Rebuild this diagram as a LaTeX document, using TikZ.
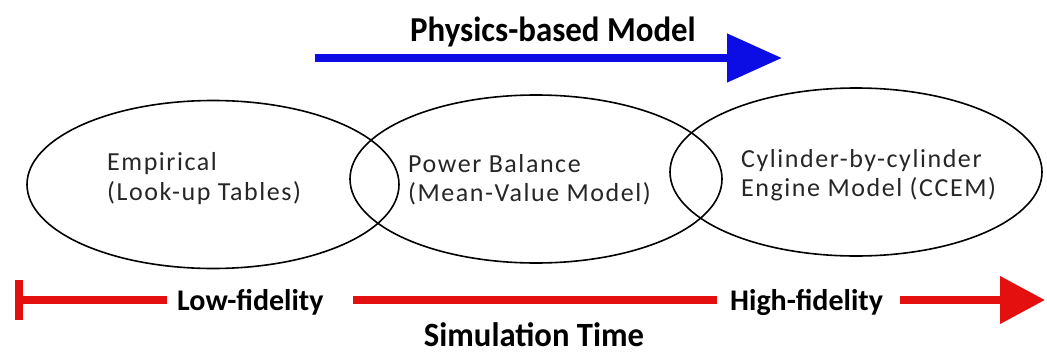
\documentclass[tikz,border=0pt]{standalone}
\usepackage{fontspec}
\setmainfont{Carlito}
\usetikzlibrary{shapes.geometric,arrows.meta}
\definecolor{arrblue}{RGB}{12,12,228}
\definecolor{arrred}{RGB}{228,16,16}
\begin{document}
\begin{tikzpicture}[x=1pt,y=-1pt,
  oval/.style={draw=black, line width=1.6pt, ellipse, minimum width=372pt, minimum height=168pt, inner sep=0pt},
  body/.style={anchor=base west, inner sep=0pt, text=black!85, font=\fontsize{26}{30}\selectfont\addfontfeatures{LetterSpace=6}},
  bold/.style={anchor=base, inner sep=0pt, font=\bfseries\fontsize{35}{40}\selectfont},
  fid/.style={anchor=base west, inner sep=0pt, font=\bfseries\fontsize{30}{36}\selectfont},
  redline/.style={draw=arrred, line width=7.5pt},
]
\useasboundingbox (0,0) rectangle (1047,356);

% ellipses
\node[oval] (e1) at (213,184.5) {};
\node[oval] (e2) at (536,179) {};
\node[oval] (e3) at (856,172) {};

% ellipse texts
\node[body] (t1a) at (107,170) {Empirical};
\node[body] (t1b) at (107,200) {(Look-up Tables)};
\node[body] (t2a) at (408,172) {Power Balance};
\node[body] (t2b) at (408,201) {(Mean-Value Model)};
\node[body] (t3a) at (741,167) {Cylinder-by-cylinder};
\node[body] (t3b) at (741,196) {Engine Model (CCEM)};

% physics-based arrow
\node[bold] (phys) at (553,41) {\scalebox{0.94}[1]{Physics-based Model}};
\coordinate (bs) at (315,58);
\coordinate (be) at (782,58);
\draw[arrblue, line width=8pt, -{Triangle[length=55pt,width=47pt]}] (bs) -- (be);

% fidelity axis
\node[fid] (low) at (177,310) {Low-fidelity};
\node[fid] (high) at (730,310) {High-fidelity};
\node[bold, font=\bfseries\fontsize{34}{38}\selectfont] (sim) at (534,346) {\scalebox{0.96}[1]{Simulation Time}};
\coordinate (bt) at (19,280);
\coordinate (bb) at (19,320);
\coordinate (r0) at (15,300);
\coordinate (r1) at (167,300);
\coordinate (r2) at (353,300);
\coordinate (r3) at (717,300);
\coordinate (r4) at (900,300);
\coordinate (r5) at (1045,300);
\draw[arrred, line width=8pt] (bt) -- (bb);
\draw[redline] (r0) -- (r1);
\draw[redline] (r2) -- (r3);
\draw[redline, -{Triangle[length=45pt,width=46pt]}] (r4) -- (r5);
\end{tikzpicture}
\end{document}
